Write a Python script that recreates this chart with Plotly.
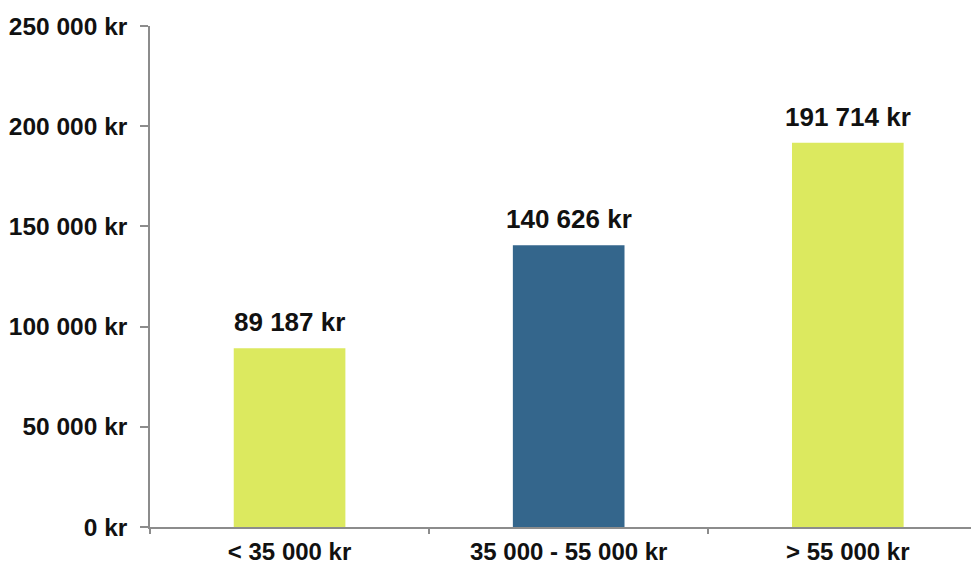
import plotly.graph_objects as go

categories = ["< 35 000 kr", "35 000 - 55 000 kr", "> 55 000 kr"]
values = [89187, 140626, 191714]
bar_colors = ["#DCE95F", "#34668C", "#DCE95F"]
tick_vals = [0, 50000, 100000, 150000, 200000, 250000]
tick_text = ["0 kr", "50 000 kr", "100 000 kr", "150 000 kr", "200 000 kr", "250 000 kr"]

def fmt(v):
    return f"{v:,}".replace(",", " ") + " kr"

FONT = "Liberation Sans, Arial, sans-serif"

fig = go.Figure()
fig.add_trace(go.Bar(
    x=categories, y=values, marker=dict(color=bar_colors, line=dict(width=0)),
    width=0.4, showlegend=False, hoverinfo="skip",
))
for c, v in zip(categories, values):
    fig.add_annotation(x=c, y=v, text="<b>" + fmt(v) + "</b>", showarrow=False,
                       yanchor="bottom", yshift=9,
                       font=dict(family=FONT, size=26, color="#111111"))

fig.update_layout(
    width=971, height=558,
    margin=dict(l=142, r=0, t=18, b=39),
    paper_bgcolor="white", plot_bgcolor="white",
    font=dict(family=FONT, size=24.5, color="#111111"),
)
fig.update_yaxes(
    range=[0, 250000], tickvals=tick_vals, ticktext=["<b>%s</b>" % t for t in tick_text],
    showgrid=False, zeroline=False, showline=True, linecolor="#8c8c8c", linewidth=1.5,
    ticks="outside", ticklen=8, tickcolor="#8c8c8c", tickwidth=1.5,
    ticklabelstandoff=8, automargin=False,
)
fig.update_xaxes(
    range=[-0.5, 2.47], tickvals=[0, 1, 2], ticktext=["<b>%s</b>" % t for t in categories],
    tickson="boundaries", tickfont=dict(size=24),
    showgrid=False, zeroline=False, showline=True, linecolor="#8c8c8c", linewidth=1.5,
    ticks="outside", ticklen=5, tickcolor="#8c8c8c", tickwidth=1.5,
    ticklabelstandoff=2, automargin=False,
)
fig.write_html("out.html")
